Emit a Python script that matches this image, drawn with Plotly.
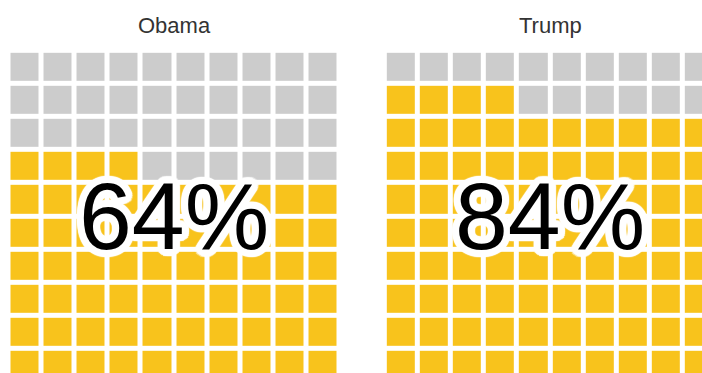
import math
import plotly.graph_objects as go

# Share of respondents, one waffle per president
names = ["Obama", "Trump"]
shares = [64, 84]
share_labels = ["64%", "84%"]

W, H = 702, 373
GOLD = "#F8C31C"
GRAY = "#CCCCCC"
N = 10            # 10 x 10 squares
PITCH = 33.1      # px per square, gap included
GAP = 5           # white gap between squares, px
LEFT_PX = [8.5, 384.8]
TOP_PX = 50.8


def waffle(value):
    """Rows top to bottom; squares filled from the bottom row, left to right."""
    z = []
    for r in range(N):
        row = []
        for c in range(N):
            k = (N - 1 - r) * N + c
            row.append(1 if k < value else 0)
        z.append(row)
    return z


def halo(radius, steps=24):
    parts = []
    for rr in (radius, radius * 0.6):
        for i in range(steps):
            a = 2 * math.pi * i / steps
            parts.append(f"{rr * math.cos(a):.1f}px {rr * math.sin(a):.1f}px 1px #ffffff")
    return ", ".join(parts)


fig = go.Figure()
layout = dict(
    width=W, height=H,
    margin=dict(l=0, r=0, t=0, b=0),
    paper_bgcolor="white", plot_bgcolor="white",
    showlegend=False,
    annotations=[],
)

y1_px = min(TOP_PX + N * PITCH, H)
y_dom = [max(0.0, 1 - y1_px / H), 1 - TOP_PX / H]
y_rng = [-0.5 + (y1_px - TOP_PX) / PITCH, -0.5]

for i, (name, value, label) in enumerate(zip(names, shares, share_labels)):
    sfx = "" if i == 0 else str(i + 1)
    x0_px = LEFT_PX[i]
    x1_px = min(x0_px + N * PITCH, W)
    x_dom = [x0_px / W, x1_px / W]
    x_rng = [-0.5, -0.5 + (x1_px - x0_px) / PITCH]

    fig.add_trace(go.Heatmap(
        z=waffle(value),
        x=list(range(N)), y=list(range(N)),
        zmin=0, zmax=1,
        colorscale=[[0, GRAY], [1, GOLD]],
        showscale=False, xgap=GAP, ygap=GAP,
        hoverinfo="skip",
        xaxis="x" + sfx, yaxis="y" + sfx,
    ))

    layout["xaxis" + sfx] = dict(domain=x_dom, range=x_rng, visible=False,
                                 fixedrange=True, anchor="y" + sfx)
    layout["yaxis" + sfx] = dict(domain=y_dom, range=y_rng, visible=False,
                                 fixedrange=True, anchor="x" + sfx)

    # panel title
    layout["annotations"].append(dict(
        text=name, xref="paper", yref="paper",
        x=(x0_px + N * PITCH / 2) / W, y=1 - 25 / H,
        xanchor="center", yanchor="middle", showarrow=False,
        font=dict(family="Liberation Sans, Arial, sans-serif", size=22, color="#333333"),
    ))

    # big percentage over the squares
    layout["annotations"].append(dict(
        text=label, xref="x" + sfx, yref="y" + sfx,
        x=(N - 1) / 2, y=(N - 1) / 2,
        xanchor="center", yanchor="middle", showarrow=False,
        font=dict(family="Liberation Sans, Arial, sans-serif", size=95, color="#000000",
                  shadow=halo(7)),
    ))

fig.update_layout(**layout)
fig.write_html("out.html")
